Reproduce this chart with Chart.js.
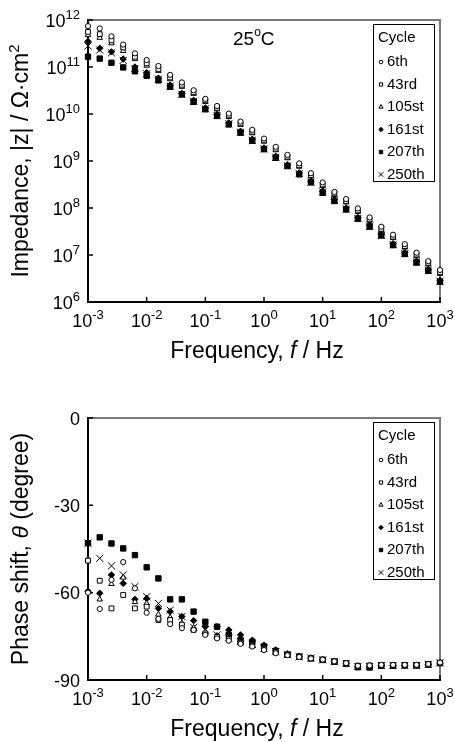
<!DOCTYPE html>
<html>
<head>
<meta charset="utf-8">
<script src="https://cdn.jsdelivr.net/npm/chart.js@4.4.1/dist/chart.umd.min.js"></script>
<style>
  html, body { margin: 0; padding: 0; background: #fff; }
  #wrap { position: relative; width: 455px; height: 742px; }
  .box { position: absolute; left: 0; width: 455px; height: 371px; }
</style>
</head>
<body>
<div id="wrap">
  <div class="box" style="top:0"><canvas id="zChart" width="455" height="371"></canvas></div>
  <div class="box" style="top:371px"><canvas id="phChart" width="455" height="371"></canvas></div>
</div>
<script>
// frequencies, Hz (5 points per decade)
var freq = [0.001, 0.001585, 0.002512, 0.003981, 0.00631, 0.01, 0.01585, 0.02512, 0.03981, 0.0631,
  0.1, 0.1585, 0.2512, 0.3981, 0.631, 1, 1.585, 2.512, 3.981, 6.31,
  10, 15.85, 25.12, 39.81, 63.1, 100, 158.5, 251.2, 398.1, 631, 1000];

var cycles = ['6th', '43rd', '105st', '161st', '207th', '250th'];

// |z| in ohm cm2
var z6 = [7.4e11, 6.6e11, 4.5e11, 3.0e11, 1.95e11, 1.41e11, 1.05e11, 6.8e10, 4.7e10, 3.2e10,
  2.1e10, 1.48e10, 1.02e10, 6.9e9, 4.6e9, 3.0e9, 2.0e9, 1.35e9, 8.9e8, 5.5e8,
  3.5e8, 2.2e8, 1.55e8, 9.8e7, 6.3e7, 4.0e7, 2.7e7, 1.7e7, 1.12e7, 7.4e6, 4.8e6];
var z43 = [5.6e11, 5.0e11, 3.7e11, 2.6e11, 1.66e11, 1.2e11, 9.1e10, 6.0e10, 4.2e10, 2.9e10,
  1.95e10, 1.35e10, 9.3e9, 6.3e9, 4.2e9, 2.75e9, 1.82e9, 1.23e9, 8.1e8, 5.0e8,
  3.16e8, 2.04e8, 1.41e8, 8.9e7, 5.75e7, 3.6e7, 2.45e7, 1.55e7, 1.02e7, 6.8e6, 4.3e6];
var z105 = [4.8e11, 4.2e11, 3.2e11, 2.2e11, 1.48e11, 1.07e11, 8.3e10, 5.5e10, 3.8e10, 2.7e10,
  1.82e10, 1.26e10, 8.7e9, 5.9e9, 3.9e9, 2.6e9, 1.7e9, 1.15e9, 7.6e8, 4.7e8,
  2.95e8, 1.9e8, 1.32e8, 8.3e7, 5.4e7, 3.4e7, 2.3e7, 1.45e7, 9.5e6, 6.3e6, 4.0e6];
var z161 = [3.5e11, 2.5e11, 2.1e11, 1.48e11, 1.0e11, 7.6e10, 5.8e10, 4.1e10, 2.75e10, 1.95e10,
  1.35e10, 9.8e9, 6.5e9, 4.3e9, 2.9e9, 1.9e9, 1.26e9, 8.3e8, 5.6e8, 3.7e8,
  2.3e8, 1.51e8, 1.0e8, 6.3e7, 4.3e7, 2.75e7, 1.74e7, 1.12e7, 7.4e6, 4.9e6, 2.9e6];
var z207 = [1.66e11, 1.51e11, 1.23e11, 9.8e10, 8.1e10, 6.5e10, 5.2e10, 3.8e10, 2.6e10, 1.82e10,
  1.26e10, 9.1e9, 6.0e9, 4.0e9, 2.7e9, 1.78e9, 1.17e9, 7.8e8, 5.2e8, 3.5e8,
  2.1e8, 1.41e8, 9.3e7, 5.9e7, 4.0e7, 2.6e7, 1.62e7, 1.05e7, 6.9e6, 4.6e6, 2.7e6];
var z250 = [2.8e11, 2.3e11, 2.0e11, 1.38e11, 9.3e10, 7.2e10, 5.5e10, 3.9e10, 2.6e10, 1.86e10,
  1.29e10, 9.3e9, 6.2e9, 4.1e9, 2.75e9, 1.82e9, 1.2e9, 7.9e8, 5.4e8, 3.55e8,
  2.2e8, 1.45e8, 9.5e7, 6.0e7, 4.1e7, 2.6e7, 1.66e7, 1.07e7, 7.1e6, 4.7e6, 2.75e6];

// phase shift, degree
var p6 = [-60.0, -65.6, -55.6, -49.5, -58.5, -66.9, -69.0, -70.8, -72.2, -72.8,
  -74.5, -75.7, -76.5, -77.6, -78.5, -79.7, -80.8, -81.5, -82.1, -82.6,
  -83.0, -83.6, -84.2, -85.1, -85.0, -84.8, -84.8, -84.8, -84.8, -84.5, -84.0];
var p43 = [-49.0, -55.9, -65.4, -60.8, -65.4, -64.8, -69.4, -69.4, -71.0, -72.8,
  -74.0, -75.2, -76.0, -77.2, -78.2, -79.4, -80.5, -81.4, -82.0, -82.5,
  -83.0, -83.6, -84.2, -85.1, -85.0, -84.9, -84.9, -84.9, -84.9, -84.6, -84.1];
var p105 = [-48.5, -62.3, -57.0, -54.8, -63.2, -63.7, -67.5, -68.5, -70.5, -72.0,
  -73.5, -74.8, -75.8, -77.0, -78.0, -79.2, -80.4, -81.4, -82.0, -82.5,
  -83.1, -83.7, -84.3, -85.2, -85.1, -84.9, -84.9, -84.9, -84.9, -84.6, -84.1];
var p161 = [-59.5, -60.2, -53.9, -56.8, -62.3, -62.0, -65.4, -66.5, -68.2, -69.6,
  -71.5, -71.7, -72.8, -74.5, -76.3, -78.0, -79.7, -81.0, -81.8, -82.4,
  -83.0, -83.6, -84.3, -85.5, -85.5, -85.0, -85.0, -85.0, -85.0, -84.7, -84.2];
var p207 = [-43.0, -41.0, -43.1, -44.8, -47.1, -51.3, -55.1, -62.3, -62.3, -66.5,
  -70.0, -71.7, -74.5, -76.3, -77.0, -78.5, -80.0, -81.3, -82.0, -82.6,
  -83.1, -83.7, -84.4, -85.6, -85.7, -85.1, -85.1, -85.0, -85.0, -84.7, -84.2];
var p250 = [-43.0, -48.2, -50.8, -53.9, -57.9, -61.4, -63.7, -66.0, -68.2, -71.9,
  -72.8, -74.5, -75.5, -76.8, -77.8, -79.0, -80.3, -81.3, -82.0, -82.5,
  -83.1, -83.7, -84.3, -85.4, -85.4, -85.0, -85.0, -85.0, -85.0, -84.6, -84.1];

// tick labels
var freqTickExp = ['-3', '-2', '-1', '0', '1', '2', '3'];
var zTickExp = ['6', '7', '8', '9', '10', '11', '12'];
var phaseTicks = [0, -30, -60, -90];

var FONT = '"Liberation Sans", Arial, sans-serif';

// marker looks, same order as cycles
var markers = [
  { style: 'circle', r: 2.6, fill: '#fff', lr: 1.8 },
  { style: 'rect', r: 3.4, fill: '#fff', lr: 2.3 },
  { style: 'triangle', r: 3.2, fill: '#fff', lr: 2.4 },
  { style: 'rectRot', r: 3.2, fill: '#000', lr: 2.2 },
  { style: 'rect', r: 3.8, fill: '#000', lr: 2.4 },
  { style: 'crossRot', r: 5, fill: '#000', lr: 3.2 }
];

function makeSets(series) {
  return series.map(function(vals, i) {
    var m = markers[i];
    return {
      label: cycles[i],
      data: freq.map(function(f, k) { return { x: f, y: vals[k] }; }),
      showLine: false,
      clip: false,
      pointStyle: m.style,
      pointRadius: m.r,
      pointHoverRadius: m.r,
      pointBackgroundColor: m.fill,
      pointBorderColor: '#000',
      pointBorderWidth: 1,
      legendRadius: m.lr
    };
  });
}

function fontOf(r, size) {
  return (r.italic ? 'italic ' : '') + (r.size || size) + 'px ' + FONT;
}

// draws text made of runs (normal / italic / superscript), y is the baseline
function drawRuns(ctx, runs, x, y, size, align) {
  var w = 0;
  runs.forEach(function(r) { ctx.font = fontOf(r, size); w += ctx.measureText(r.t).width; });
  var cx = align === 'center' ? x - w / 2 : (align === 'right' ? x - w : x);
  ctx.textAlign = 'left';
  ctx.textBaseline = 'alphabetic';
  runs.forEach(function(r) {
    ctx.font = fontOf(r, size);
    ctx.fillText(r.t, cx, y - (r.rise || 0));
    cx += ctx.measureText(r.t).width;
  });
}

function pow10(e) {
  return [{ t: '10' }, { t: e, size: 13, rise: 8 }];
}

function drawPoint(ctx, ds, x, y) {
  ctx.fillStyle = ds.pointBackgroundColor;
  ctx.strokeStyle = '#000';
  ctx.lineWidth = 1;
  Chart.helpers.drawPoint(ctx, { pointStyle: ds.pointStyle, radius: ds.legendRadius, rotation: 0, borderWidth: 1 }, x, y);
}

function framePlugin(cfg) {
  return {
    id: 'frame',
    beforeDatasetsDraw: function(chart) {
      var ctx = chart.ctx, a = chart.chartArea;
      var xs = chart.scales.x, ys = chart.scales.y;
      ctx.save();
      ctx.lineWidth = 2;
      ctx.strokeStyle = '#7a7a7a';
      ctx.beginPath();
      ctx.moveTo(a.left, a.top); ctx.lineTo(a.right, a.top); ctx.lineTo(a.right, a.bottom);
      ctx.stroke();
      ctx.strokeStyle = '#000';
      ctx.beginPath();
      ctx.moveTo(a.left, a.top - 1); ctx.lineTo(a.left, a.bottom); ctx.lineTo(a.right + 1, a.bottom);
      ctx.stroke();
      ctx.lineWidth = 1.5;
      ctx.beginPath();
      freqTickExp.forEach(function(e) {
        var px = xs.getPixelForValue(Math.pow(10, Number(e)));
        ctx.moveTo(px, a.bottom); ctx.lineTo(px, a.bottom - 5);
      });
      cfg.yTicks.forEach(function(v) {
        var py = ys.getPixelForValue(v);
        ctx.moveTo(a.left, py); ctx.lineTo(a.left + 5, py);
      });
      ctx.stroke();
      ctx.restore();
    },
    afterDraw: function(chart) {
      var ctx = chart.ctx, a = chart.chartArea;
      var xs = chart.scales.x, ys = chart.scales.y;
      ctx.save();
      ctx.fillStyle = '#000';
      // x tick labels
      freqTickExp.forEach(function(e) {
        var px = xs.getPixelForValue(Math.pow(10, Number(e)));
        drawRuns(ctx, pow10(e), px, a.bottom + 25, 18, 'center');
      });
      // y tick labels
      cfg.yTicks.forEach(function(v, i) {
        var py = ys.getPixelForValue(v);
        drawRuns(ctx, cfg.yLabel(i), 80, py + 6.5, 18, 'right');
      });
      // axis titles
      drawRuns(ctx, [{ t: 'Frequency, ' }, { t: 'f', italic: true }, { t: ' / Hz' }], 257, a.bottom + 56, 23, 'center');
      ctx.save();
      ctx.translate(28, (a.top + a.bottom) / 2);
      ctx.rotate(-Math.PI / 2);
      drawRuns(ctx, cfg.yTitle, 0, 0, 23, 'center');
      ctx.restore();
      // legend
      var bx = 373, by = a.top + 4;
      ctx.lineWidth = 1;
      ctx.strokeStyle = '#000';
      ctx.strokeRect(bx + 0.5, by + 0.5, 61, 157);
      ctx.fillStyle = '#000';
      ctx.font = '15px ' + FONT;
      ctx.textAlign = 'left';
      ctx.textBaseline = 'middle';
      ctx.fillText('Cycle', 378, by + 14);
      chart.data.datasets.forEach(function(ds, i) {
        var y = by + 38 + i * 22.5;
        drawPoint(ctx, ds, 381, y);
        ctx.fillStyle = '#000';
        ctx.font = '15px ' + FONT;
        ctx.textBaseline = 'middle';
        ctx.fillText(ds.label, 387, y);
      });
      if (cfg.note) {
        ctx.fillStyle = '#000';
        drawRuns(ctx, cfg.note, 233, a.top + 25, 19, 'left');
      }
      ctx.restore();
    }
  };
}

function makeChart(id, series, yMin, yMax, yType, padTop, xHeight, cfg) {
  return new Chart(document.getElementById(id), {
    type: 'scatter',
    data: { datasets: makeSets(series) },
    options: {
      responsive: false,
      animation: false,
      events: [],
      layout: { padding: { left: 0, right: 15, top: padTop, bottom: 0 } },
      plugins: { legend: { display: false }, tooltip: { enabled: false } },
      scales: {
        x: {
          type: 'logarithmic', min: 1e-3, max: 1e3,
          ticks: { display: false }, grid: { display: false }, border: { display: false },
          afterFit: function(s) { s.height = xHeight; }
        },
        y: {
          type: yType, min: yMin, max: yMax,
          ticks: { display: false }, grid: { display: false }, border: { display: false },
          afterFit: function(s) { s.width = 88; }
        }
      }
    },
    plugins: [framePlugin(cfg)]
  });
}

makeChart('zChart', [z6, z43, z105, z161, z207, z250], 1e6, 1e12, 'logarithmic', 20, 69, {
  yTicks: zTickExp.map(function(e) { return Math.pow(10, Number(e)); }),
  yLabel: function(i) { return pow10(zTickExp[i]); },
  yTitle: [{ t: 'Impedance, |z| / Ω·cm' }, { t: '2', size: 15, rise: 9 }],
  note: [{ t: '25' }, { t: 'o', size: 12, rise: 9 }, { t: 'C' }]
});

makeChart('phChart', [p6, p43, p105, p161, p207, p250], -90, 0, 'linear', 47, 62, {
  yTicks: phaseTicks,
  yLabel: function(i) { return [{ t: String(phaseTicks[i]) }]; },
  yTitle: [{ t: 'Phase shift, ' }, { t: 'θ', italic: true }, { t: ' (degree)' }]
});
</script>
</body>
</html>
